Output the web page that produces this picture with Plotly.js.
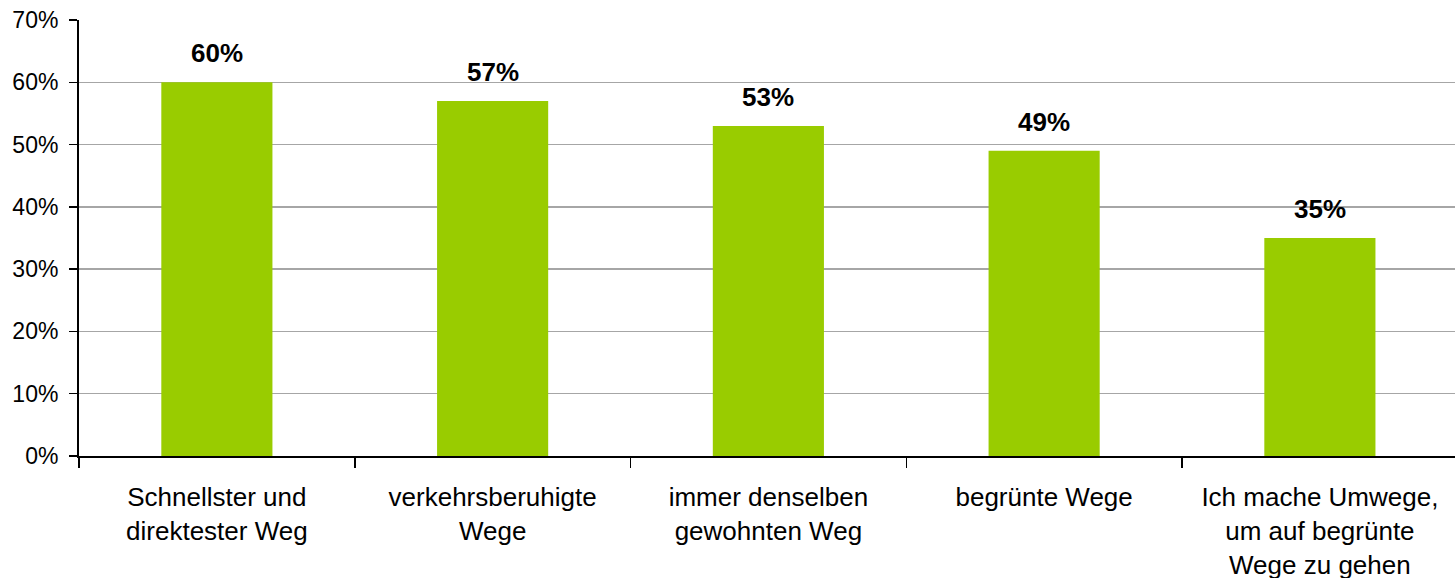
<!DOCTYPE html>
<html>
<head>
<meta charset="utf-8">
<script src="https://cdn.plot.ly/plotly-3.0.1.min.js"></script>
<style>html,body{margin:0;padding:0;background:#fff;}#chart{width:1455px;height:578px;}</style>
</head>
<body>
<div id="chart"></div>
<script>
const categories = [
  "Schnellster und<br>direktester Weg",
  "verkehrsberuhigte<br>Wege",
  "immer denselben<br>gewohnten Weg",
  "begrünte Wege",
  "Ich mache Umwege,<br>um auf begrünte<br>Wege zu gehen"
];
const values = [60, 57, 53, 49, 35];
const valueLabels = ["60%", "57%", "53%", "49%", "35%"];
const yTickVals = [0, 10, 20, 30, 40, 50, 60, 70];
const yTickText = ["0%", "10%", "20%", "30%", "40%", "50%", "60%", "70%"];

const font = "Liberation Sans, Arial, sans-serif";

const trace = {
  type: "bar",
  x: categories,
  y: values,
  marker: {color: "#99CC00"},
  hoverinfo: "skip"
};

const annotations = categories.map((c, i) => ({
  x: c, y: values[i], xref: "x", yref: "y",
  text: "<b>" + valueLabels[i] + "</b>",
  showarrow: false, yanchor: "bottom", yshift: 12,
  font: {family: font, size: 26, color: "#000"}
}));

const layout = {
  width: 1455, height: 578,
  margin: {l: 79, r: 0, t: 20, b: 122},
  paper_bgcolor: "#fff", plot_bgcolor: "#fff",
  bargap: 0.597,
  showlegend: false,
  font: {family: font, color: "#000"},
  xaxis: {
    type: "category",
    range: [-0.5, 4.49],
    tickson: "boundaries",
    ticks: "outside", ticklen: 10, tickwidth: 1.5, tickcolor: "#000",
    showline: true, linecolor: "#000", linewidth: 2,
    showgrid: false, zeroline: false,
    tickfont: {family: font, size: 26, color: "#000"},
    ticklabelstandoff: 17,
    fixedrange: true
  },
  yaxis: {
    range: [0, 70],
    tickmode: "array",
    tickvals: yTickVals,
    ticktext: yTickText,
    ticks: "outside", ticklen: 8, tickwidth: 1.5, tickcolor: "#000",
    showline: true, linecolor: "#000", linewidth: 2,
    showgrid: true, gridcolor: "#A6A6A6", gridwidth: 1.5,
    zeroline: false,
    tickfont: {family: font, size: 23, color: "#000"},
    ticklabelstandoff: 6,
    fixedrange: true
  },
  annotations: annotations
};

Plotly.newPlot("chart", [trace], layout, {displayModeBar: false, staticPlot: true});
</script>
</body>
</html>
